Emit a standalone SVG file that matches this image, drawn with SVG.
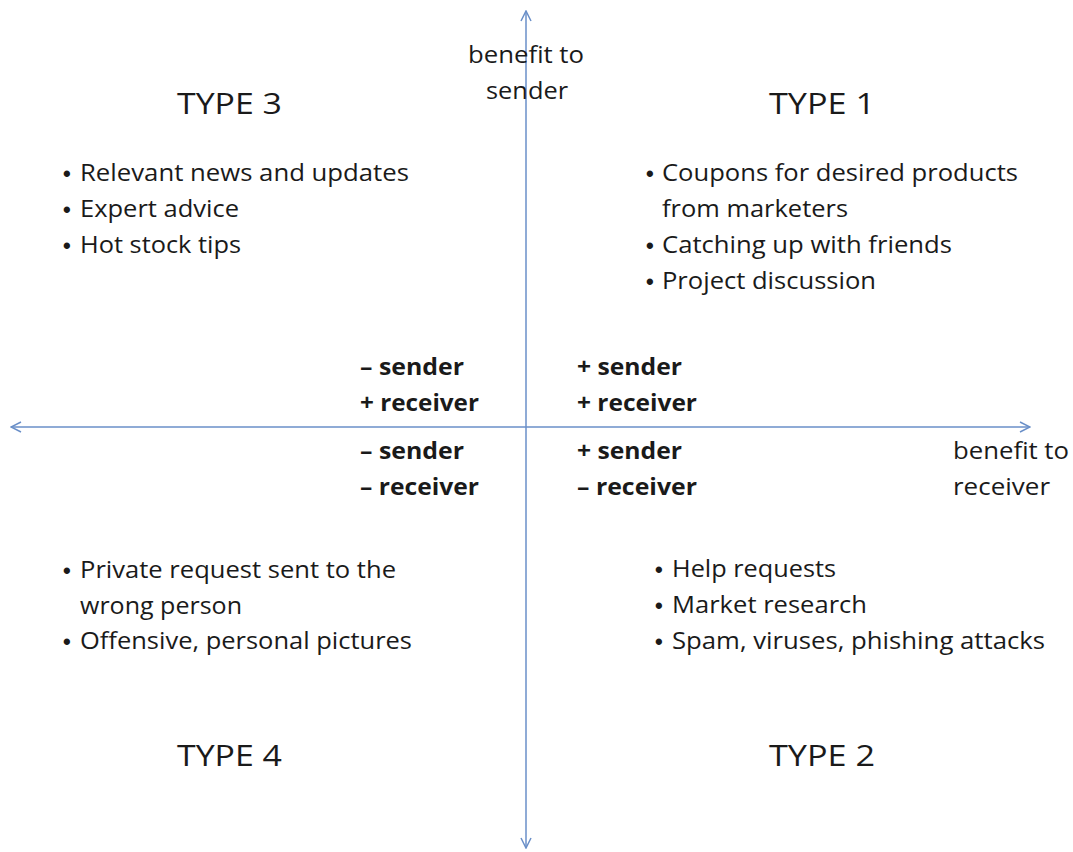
<svg xmlns="http://www.w3.org/2000/svg" width="1073" height="852" viewBox="0 0 1073 852">
<defs>
<style>
.t{font-family:"Open Sans","Liberation Sans",sans-serif;font-size:23px;fill:#1a1a1a}
.d{font-family:"Liberation Sans",sans-serif;font-size:22px;font-weight:bold;fill:#1a1a1a}
.h{font-family:"Open Sans","Liberation Sans",sans-serif;font-size:29px;fill:#1a1a1a}
.b{font-family:"Open Sans","Liberation Sans",sans-serif;font-size:23px;font-weight:bold;fill:#1a1a1a}
.ax{stroke:#6a8fc8;stroke-width:1.5;fill:none}
</style>
<marker id="arr" viewBox="0 0 12 12" refX="11" refY="6" markerWidth="12" markerHeight="12" markerUnits="userSpaceOnUse" orient="auto-start-reverse">
<path d="M1,1 L11,6 L1,11" fill="none" stroke="#6a8fc8" stroke-width="1.5"/>
</marker>
</defs>
<rect width="1073" height="852" fill="#ffffff"/>
<g id="connectors">
<line class="ax" x1="526" y1="848" x2="526" y2="11" marker-start="url(#arr)" marker-end="url(#arr)"/>
<line class="ax" x1="11" y1="427" x2="1030" y2="427" marker-start="url(#arr)" marker-end="url(#arr)"/>
</g>
<g id="axis-labels">
<text class="t" x="468" y="63" textLength="116" lengthAdjust="spacingAndGlyphs">benefit to</text>
<text class="t" x="486" y="99" textLength="82" lengthAdjust="spacingAndGlyphs">sender</text>
<text class="t" x="953" y="459" textLength="116" lengthAdjust="spacingAndGlyphs">benefit to</text>
<text class="t" x="953" y="495" textLength="97" lengthAdjust="spacingAndGlyphs">receiver</text>
</g>
<g id="type3">
<text class="h" x="177" y="114" textLength="105" lengthAdjust="spacingAndGlyphs">TYPE 3</text>
<text class="d" x="63" y="181">•</text><text class="t" x="80" y="181" textLength="329" lengthAdjust="spacingAndGlyphs">Relevant news and updates</text>
<text class="d" x="63" y="217">•</text><text class="t" x="80" y="217" textLength="159" lengthAdjust="spacingAndGlyphs">Expert advice</text>
<text class="d" x="63" y="253">•</text><text class="t" x="80" y="253" textLength="161" lengthAdjust="spacingAndGlyphs">Hot stock tips</text>
</g>
<g id="type1">
<text class="h" x="769" y="114" textLength="106" lengthAdjust="spacingAndGlyphs">TYPE 1</text>
<text class="d" x="646" y="181">•</text><text class="t" x="662" y="181" textLength="356" lengthAdjust="spacingAndGlyphs">Coupons for desired products</text>
<text class="t" x="662" y="217" textLength="186" lengthAdjust="spacingAndGlyphs">from marketers</text>
<text class="d" x="646" y="253">•</text><text class="t" x="662" y="253" textLength="290" lengthAdjust="spacingAndGlyphs">Catching up with friends</text>
<text class="d" x="646" y="289">•</text><text class="t" x="662" y="289" textLength="214" lengthAdjust="spacingAndGlyphs">Project discussion</text>
</g>
<g id="quad-labels">
<text class="b" x="360" y="375" textLength="104" lengthAdjust="spacingAndGlyphs">– sender</text>
<text class="b" x="360" y="411" textLength="119" lengthAdjust="spacingAndGlyphs">+ receiver</text>
<text class="b" x="577" y="375" textLength="105" lengthAdjust="spacingAndGlyphs">+ sender</text>
<text class="b" x="577" y="411" textLength="120" lengthAdjust="spacingAndGlyphs">+ receiver</text>
<text class="b" x="360" y="459" textLength="104" lengthAdjust="spacingAndGlyphs">– sender</text>
<text class="b" x="360" y="495" textLength="119" lengthAdjust="spacingAndGlyphs">– receiver</text>
<text class="b" x="577" y="459" textLength="105" lengthAdjust="spacingAndGlyphs">+ sender</text>
<text class="b" x="577" y="495" textLength="120" lengthAdjust="spacingAndGlyphs">– receiver</text>
</g>
<g id="type4">
<text class="d" x="63" y="578">•</text><text class="t" x="80" y="578" textLength="316" lengthAdjust="spacingAndGlyphs">Private request sent to the</text>
<text class="t" x="80" y="614" textLength="162" lengthAdjust="spacingAndGlyphs">wrong person</text>
<text class="d" x="63" y="649">•</text><text class="t" x="80" y="649" textLength="332" lengthAdjust="spacingAndGlyphs">Offensive, personal pictures</text>
<text class="h" x="177" y="766" textLength="105" lengthAdjust="spacingAndGlyphs">TYPE 4</text>
</g>
<g id="type2">
<text class="d" x="655" y="577">•</text><text class="t" x="672" y="577" textLength="164" lengthAdjust="spacingAndGlyphs">Help requests</text>
<text class="d" x="655" y="613">•</text><text class="t" x="672" y="613" textLength="195" lengthAdjust="spacingAndGlyphs">Market research</text>
<text class="d" x="655" y="649">•</text><text class="t" x="672" y="649" textLength="373" lengthAdjust="spacingAndGlyphs">Spam, viruses, phishing attacks</text>
<text class="h" x="769" y="766" textLength="106" lengthAdjust="spacingAndGlyphs">TYPE 2</text>
</g>
</svg>
